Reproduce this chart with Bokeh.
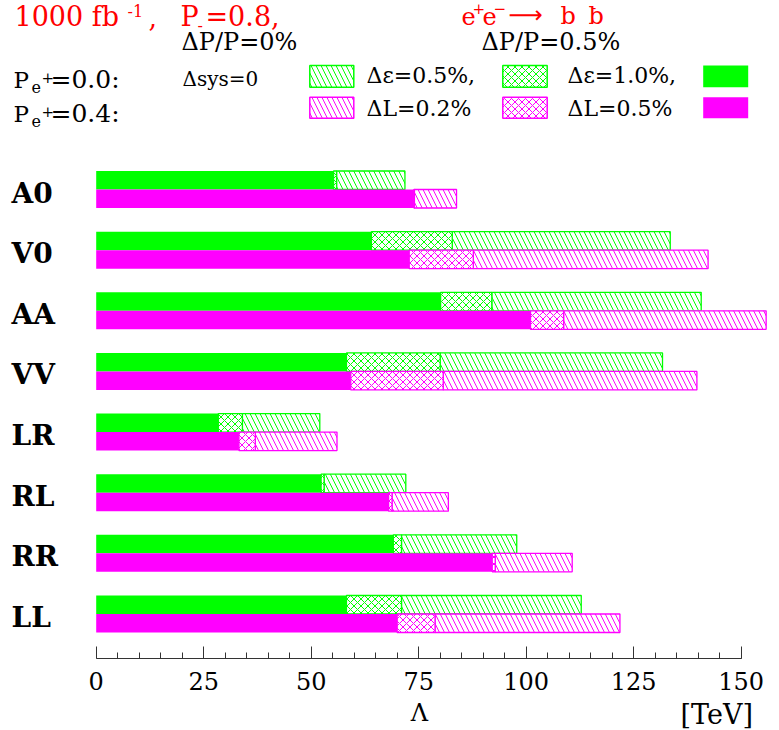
from bokeh.plotting import figure
from bokeh.layouts import column
from bokeh.models import Range1d, LinearAxis, SingleIntervalTicker, Label, ColumnDataSource
from bokeh.core.properties import value
from bokeh.embed import file_html
from bokeh.resources import INLINE

# Contact-interaction models, top to bottom
models = ["A0", "V0", "AA", "VV", "LR", "RL", "RR", "LL"]

# Reach in Lambda [TeV], P(e+) = 0.0 (green)
green_eps10 = [55.2, 64.0, 80.1, 58.2, 28.4, 52.3, 69.1, 58.2]    # solid
green_eps05 = [55.9, 82.8, 92.0, 80.0, 34.0, 53.0, 71.0, 71.0]    # cross-hatched
green_nosys = [71.8, 133.5, 140.7, 131.7, 52.0, 72.0, 97.8, 112.8]  # diagonal hatch

# Reach in Lambda [TeV], P(e+) = 0.4 (magenta)
mag_eps10 = [73.9, 72.8, 101.0, 59.2, 33.2, 68.0, 92.1, 70.0]
mag_eps05 = [74.0, 87.7, 108.7, 80.7, 37.0, 68.8, 92.8, 78.8]
mag_nosys = [83.8, 142.3, 155.8, 139.7, 56.0, 81.9, 110.7, 121.8]

GREEN = "#00ff00"
MAGENTA = "#ff00ff"
RED = "#ff0000"
SERIF = "DejaVu Serif"

W, H = 779, 730
FRAME_H = 658          # frame height; the x axis sits at its bottom edge
MAIN_H = 698           # main figure (frame + tick labels); a strip below holds the axis title
X0_PX, PX_PER_X = 95.7, 4.3
ROW0_PX, ROW_PX = 613.5, 60.64
BAR_H = 0.305
BASE_SHIFT = 0.34      # baseline correction, in em


def dx(px):
    return (px - X0_PX) / PX_PER_X


def dy(py):
    return (ROW0_PX - py) / ROW_PX


x_range = Range1d(dx(0), dx(W))
p = figure(width=W, height=MAIN_H, output_backend="svg", toolbar_location=None,
           x_range=x_range, y_range=Range1d(dy(FRAME_H), dy(0)),
           x_axis_location=None, y_axis_location=None,
           min_border_left=0, min_border_right=0, min_border_top=0,
           min_border_bottom=MAIN_H - FRAME_H)
p.grid.visible = False
p.outline_line_color = None

n = len(models)
ypos = [n - 1 - i for i in range(n)]
y_green = [y + BAR_H / 2 for y in ypos]
y_mag = [y - BAR_H / 2 for y in ypos]

src = ColumnDataSource(dict(
    yg=y_green, ym=y_mag,
    g10=green_eps10, g05=green_eps05, g0=green_nosys,
    m10=mag_eps10, m05=mag_eps05, m0=mag_nosys,
    zero=[0] * n,
))

for yk, a, b, c, col in [("yg", "g10", "g05", "g0", GREEN), ("ym", "m10", "m05", "m0", MAGENTA)]:
    p.hbar(y=yk, left="zero", right=a, height=BAR_H, source=src,
           fill_color=col, line_color=None)
    p.hbar(y=yk, left=b, right=c, height=BAR_H, source=src,
           fill_color="white", line_color=col, line_width=1.3,
           hatch_pattern="left_diagonal_line", hatch_color=col, hatch_scale=10, hatch_weight=1)
    p.hbar(y=yk, left=a, right=b, height=BAR_H, source=src,
           fill_color="white", line_color=col, line_width=1.3,
           hatch_pattern="diagonal_cross", hatch_color=col, hatch_scale=7, hatch_weight=1)

# model names on the left
NAME_SIZE = 28
p.text(x=[dx(11)] * n, y=[y - 3.5 / ROW_PX for y in ypos], text=models,
       text_font=value(SERIF), text_font_style="bold", text_font_size=f"{NAME_SIZE}px",
       text_baseline="alphabetic", text_align="left", text_color="black")

# x axis
ax = LinearAxis(bounds=(0, 150), ticker=SingleIntervalTicker(interval=25, num_minor_ticks=5))
ax.major_tick_in = 12
ax.major_tick_out = 0
ax.minor_tick_in = 6
ax.minor_tick_out = 0
ax.axis_line_color = "#333333"
ax.major_tick_line_color = "#333333"
ax.minor_tick_line_color = "#333333"
ax.major_label_text_font = SERIF
ax.major_label_text_font_size = "24px"
ax.major_label_text_color = "black"
ax.major_label_standoff = 13
p.add_layout(ax, "below")


def put(fig, yconv, text, px, py, size, color="black", align="left", font=SERIF, style="normal"):
    fig.add_layout(Label(x=dx(px), y=yconv(py - BASE_SHIFT * size), text=text, text_font=font,
                         text_font_size=f"{size}px", text_color=color,
                         text_align=align, text_baseline="alphabetic",
                         text_font_style=style))


def put_main(*args, **kw):
    put(p, dy, *args, **kw)


# header: luminosity and electron polarisation
put_main("1000 fb", 14, 25, 27, RED)
put_main("-1", 127, 16, 16, RED)
put_main(",", 148, 25, 27, RED)
put_main("P", 180, 25, 27, RED)
put_main("-", 197, 30, 16, RED)
put_main("=0.8,", 205, 25, 27, RED)

# header: process
put_main("e", 461, 24, 24, RED)
put_main("+", 472, 13, 15, RED)
put_main("e", 482, 24, 24, RED)
put_main("\u2212", 493, 13, 15, RED)
put_main("\u27f6", 508, 23, 24, RED, font="DejaVu Sans")
put_main("b", 560, 24, 24, RED)
put_main("b", 588, 24, 24, RED)
put_main("-", 591, 12, 14, RED)

put_main("\u0394P/P=0%", 181, 50, 24)
put_main("\u0394P/P=0.5%", 481, 50, 24)

# positron polarisation rows
for py, txt in [(87, "=0.0:"), (121, "=0.4:")]:
    put_main("P", 13, py, 23)
    put_main("e", 31, py + 5, 16)
    put_main("+", 41, py - 5, 15)
    put_main(txt, 50, py, 25)

put_main("\u0394sys=0", 182, 85, 20)

# legend swatches and texts
rows = [(65, 86.7, GREEN, "\u0394\u03b5=0.5%,", "\u0394\u03b5=1.0%,", 82),
        (96.7, 117.7, MAGENTA, "\u0394L=0.2%", "\u0394L=0.5%", 115)]
for top, bot, col, t1, t2, base in rows:
    p.quad(left=[dx(309.3)], right=[dx(353.3)], top=[dy(top)], bottom=[dy(bot)],
           fill_color="white", line_color=col, line_width=1.5,
           hatch_pattern="left_diagonal_line", hatch_color=col, hatch_scale=10, hatch_weight=1)
    p.quad(left=[dx(502.3)], right=[dx(546.7)], top=[dy(top)], bottom=[dy(bot)],
           fill_color="white", line_color=col, line_width=1.5,
           hatch_pattern="diagonal_cross", hatch_color=col, hatch_scale=7, hatch_weight=1)
    p.quad(left=[dx(702.7)], right=[dx(747.7)], top=[dy(top)], bottom=[dy(bot)],
           fill_color=col, line_color=None)
    put_main(t1, 366, base, 22)
    put_main(t2, 567, base, 22)

# strip under the axis: axis title and unit
q = figure(width=W, height=H - MAIN_H, output_backend="svg", toolbar_location=None,
           x_range=x_range, y_range=Range1d(H, MAIN_H),
           x_axis_location=None, y_axis_location=None,
           min_border_left=0, min_border_right=0, min_border_top=0, min_border_bottom=0)
q.grid.visible = False
q.outline_line_color = None
put(q, lambda v: v, "\u039b", 419, 721, 24, align="center")
put(q, lambda v: v, "[TeV]", 680, 723, 27)

layout = column(p, q, spacing=0)
open("out.html", "w").write(file_html(layout, INLINE))
